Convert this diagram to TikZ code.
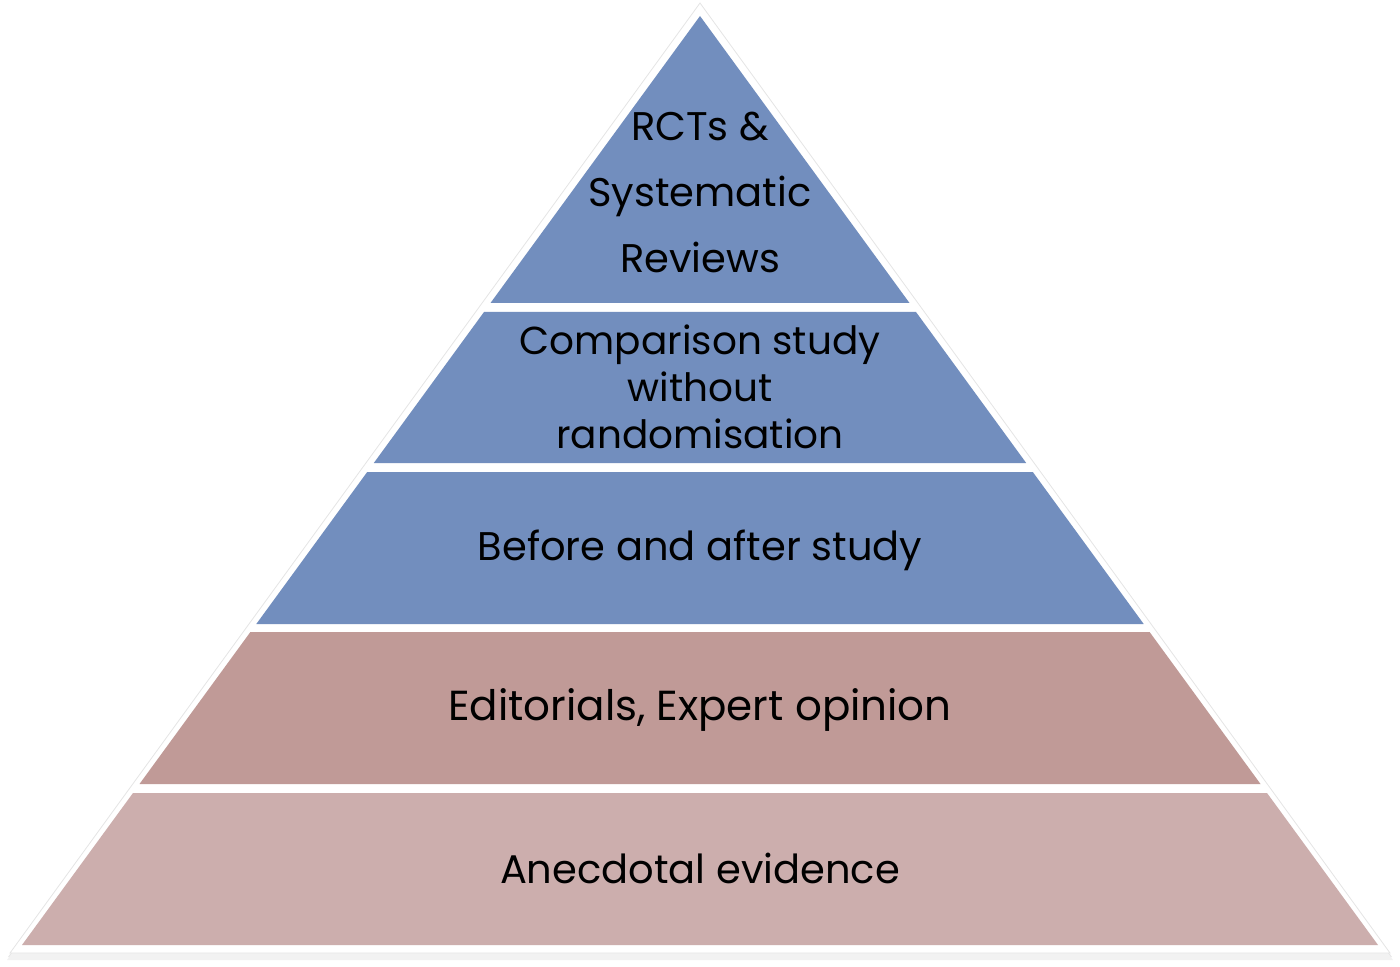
\documentclass[tikz,border=0pt]{standalone}
\usepackage{fontspec}
\setmainfont{Poppins}
\definecolor{bandblue}{RGB}{114,142,190}
\definecolor{bandrose}{RGB}{192,154,151}
\definecolor{bandpink}{RGB}{204,174,173}
\begin{document}
\begin{tikzpicture}[x=0.5pt,y=-0.5pt,
  lbl/.style={align=center,text=black,font=\fontsize{20}{23.5}\selectfont,inner sep=0pt}]
\useasboundingbox (0,0) rectangle (1400,967);
% shadow and white border
\fill[black!10] (700,6) -- (8,957) -- (1392,957) -- cycle;
\fill[black!5] (700,5) -- (7,960) -- (1393,960) -- cycle;
\filldraw[fill=white,draw=black!10,line width=0.4pt] (700,3) -- (10,953) -- (1390,953) -- cycle;
% bands
\fill[bandblue] (700,16) -- (490.5,303) -- (909.5,303) -- cycle;
\fill[bandblue] (484,312) -- (373.8,463) -- (1026.2,463) -- (916,312) -- cycle;
\fill[bandblue] (367.2,472) -- (256.3,624) -- (1143.7,624) -- (1032.8,472) -- cycle;
\fill[bandrose] (250.4,632) -- (139.5,784) -- (1260.5,784) -- (1149.6,632) -- cycle;
\fill[bandpink] (133,793) -- (22,945) -- (1378,945) -- (1267,793) -- cycle;
% labels
\node[lbl,font=\fontsize{20}{33}\selectfont] (l1) at (700,192) {RCTs \&\\Systematic\\Reviews};
\node[lbl,font=\fontsize{19.5}{23.5}\selectfont] (l2) at (700,387) {Comparison study\\without\\randomisation};
\node[lbl] (l3) at (700,550) {Before and after study};
\node[lbl,font=\fontsize{21}{23.5}\selectfont] (l4) at (700,710) {Editorials, Expert opinion};
\node[lbl] (l5) at (700,868) {Anecdotal evidence};
\end{tikzpicture}
\end{document}
